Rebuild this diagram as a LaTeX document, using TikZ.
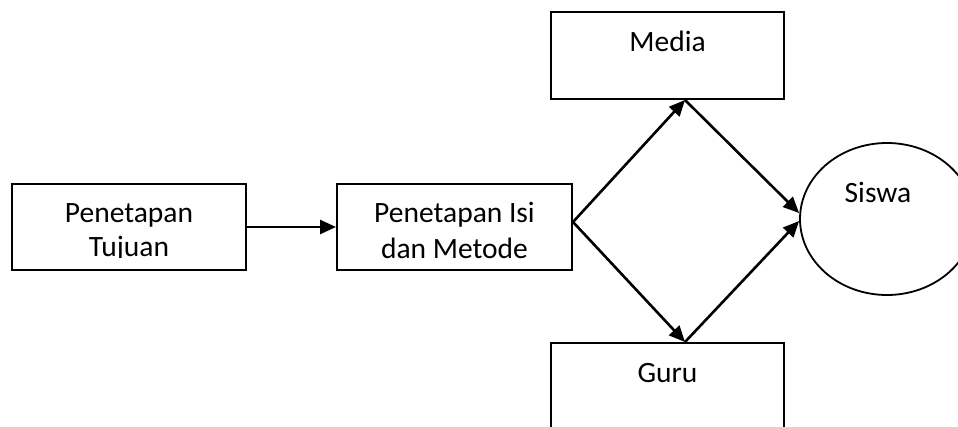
\documentclass[tikz,border=0pt]{standalone}
\usepackage{fontspec}
\setmainfont{Carlito}
\usetikzlibrary{arrows.meta,shapes.geometric}
\begin{document}
\begin{tikzpicture}[x=1pt,y=1pt,
  boxnode/.style={draw=black,line width=2pt,rectangle,inner sep=0pt},
  txt/.style={anchor=base,inner sep=0pt,font=\fontsize{29.5}{36}\selectfont},
  conn/.style={line width=2.6pt,-{Triangle[length=16pt,width=14pt]}}]
\useasboundingbox (0,0) rectangle (958,426);
% boxes
\node[boxnode,minimum width=234pt,minimum height=86pt] (b1) at (129,199) {};
\node[boxnode,minimum width=235pt,minimum height=86pt] (b2) at (454.5,199) {};
\node[boxnode,minimum width=233pt,minimum height=87pt] (media) at (667.5,370.5) {};
\node[boxnode,minimum width=233pt,minimum height=120pt] (guru) at (667.5,23) {};
\node[draw=black,line width=1.8pt,ellipse,inner sep=0pt,minimum width=174pt,minimum height=152pt] (siswa) at (887,207) {};
% texts
\node[txt] (t1a) at (129,203) {Penetapan};
\begin{scope}
\clip (12,168) rectangle (246,200);
\node[txt] (t1b) at (129,169) {Tujuan};
\end{scope}
\node[txt] (t2a) at (454.5,203) {Penetapan Isi};
\node[txt] (t2b) at (454.5,167) {dan Metode};
\node[txt] (tm) at (667.5,374) {Media};
\node[txt] (tg) at (667.5,44) {Guru};
\node[txt] (ts) at (878,223) {Siswa};
% connector points
\coordinate (v) at ([yshift=5pt]b2.east);
\coordinate (mtip) at ([xshift=17.5pt]media.south);
\coordinate (gtip) at ([xshift=17.5pt]guru.north);
\coordinate (s1) at ([yshift=6pt]siswa.west);
\coordinate (s2) at ([yshift=-2pt]siswa.west);
% connectors
\draw[conn] (b1.east) -- (b2.west);
\draw[conn] (v) -- (mtip);
\draw[conn] (v) -- (gtip);
\draw[conn] (mtip) -- (s1);
\draw[conn] (gtip) -- (s2);
\end{tikzpicture}
\end{document}
